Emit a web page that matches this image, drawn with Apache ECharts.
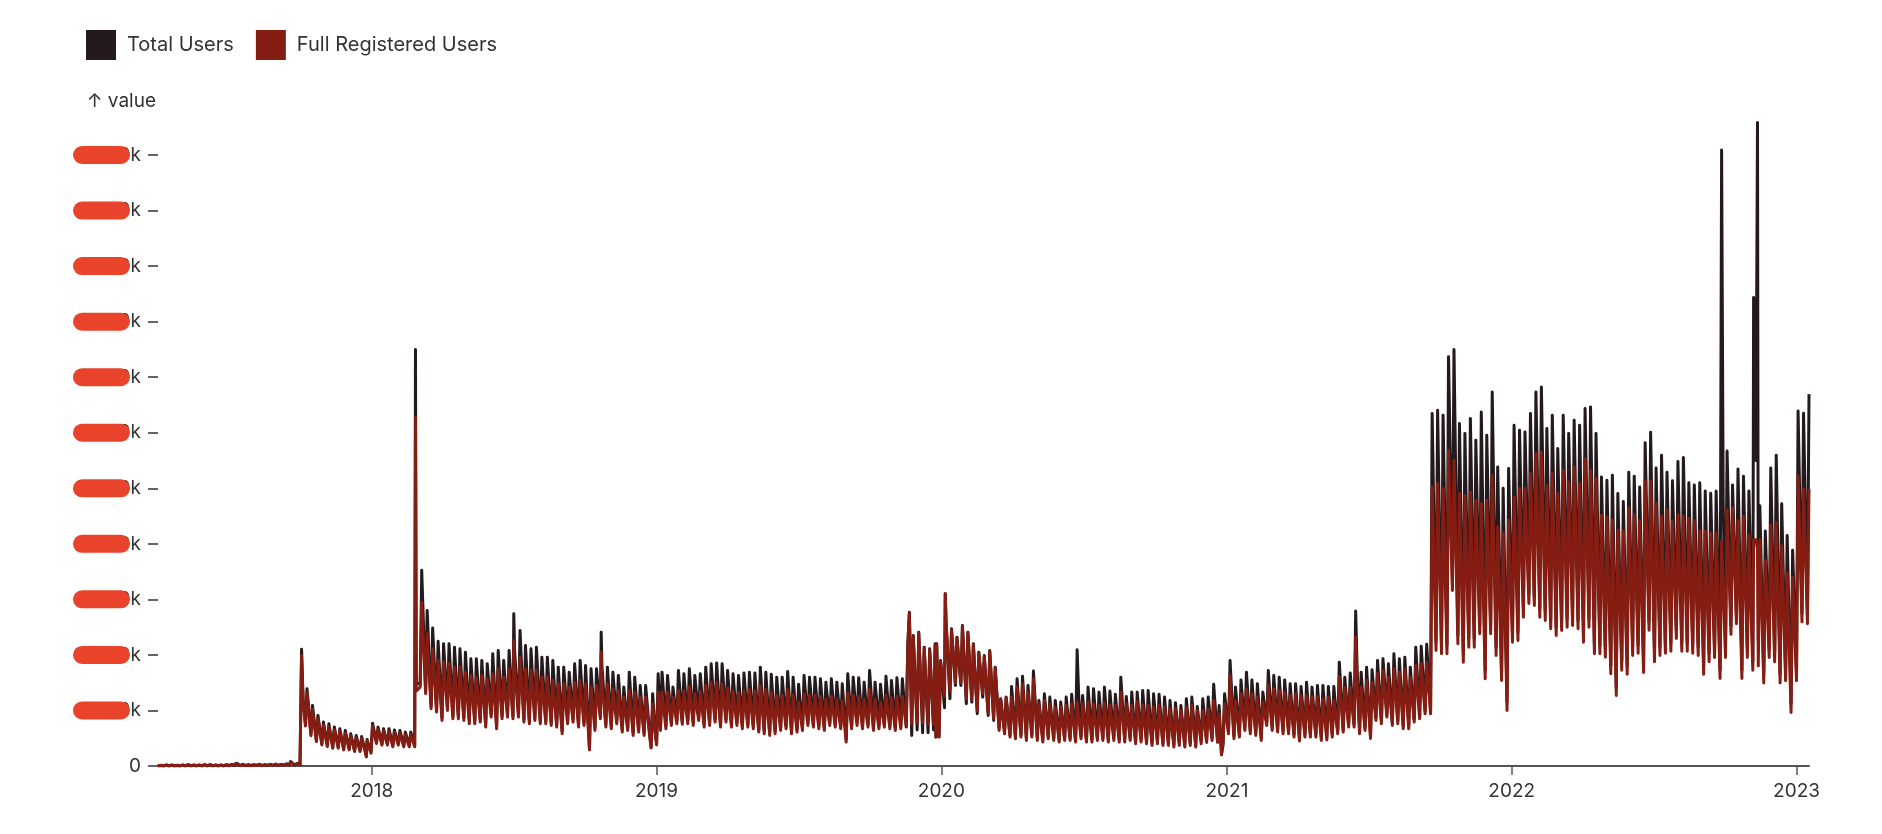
<!DOCTYPE html>
<html>
<head>
<meta charset="utf-8">
<script src="https://cdn.jsdelivr.net/npm/echarts@6/dist/echarts.min.js"></script>
<style>
html, body { margin: 0; padding: 0; background: #ffffff; }
#chart { width: 1882px; height: 834px; }
</style>
</head>
<body>
<div id="chart"></div>
<script>
// ---------- DATA (values in thousands of users) ----------
const seriesNames = ['Total Users', 'Full Registered Users'];
const firstWeekStart = '2017-04-02';   // Sunday of week 0
const lastDay = '2023-01-17';
const yearTicks = ['2018', '2019', '2020', '2021', '2022', '2023'];
const yTicks = [0, 20, 40, 60, 80, 100, 120, 140, 160, 180, 200, 220];

// weekly weekday level (Tue/Thu) of Total Users, one entry per week from 2017-04-02
const totalHigh = [
  0.3,0.4,0.4,0.3,0.4,0.5,0.4,0.4,0.5,0.5,0.4,0.4,0.5,0.6,1.0,0.6,0.5,0.5,0.6,0.5,0.6,0.7,0.6,0.8,1.6,1.0,
  24,27.8,21.8,18.2,15.8,15.2,14.0,13.4,12.8,11.6,11.0,10.6,9.5,15.4,14.0,13.4,13.4,13.0,12.8,12.2,12.2,30,
  70.5,56.0,49.7,44.9,44.0,44.0,42.8,42.2,41.0,38.6,38.6,38.0,36.8,40.4,41.6,38.0,41.6,42.0,48.8,43.4,42.2,42.8,39.2,39.2,38.0,35.6,35.6,33.8,36.8,38.0,36.2,35.0,35.0,36.0,35.6,33.8,32.6,28.4,33.8,32.0,29.0,29.0,26.0,33.2,33.8,32.6,28.4,34.4,
  33.2,35.0,32.6,33.2,35.6,36.8,37.1,36.8,34.4,33.2,32.6,33.5,33.8,33.5,35.6,33.8,33.0,32.0,32.0,34.0,32.0,29.4,32.6,32.0,32.0,31.4,30.2,31.4,30.2,29.6,33.2,32.0,31.8,30.2,34.4,30.2,29.4,32.3,30.8,31.8,31.4,
  44.0,47.0,48.2,42.8,42.2,44.0,38.0,
  52,49.4,46.4,50.6,48.2,44.0,41.0,39.8,41.6,35.6,24.2,24.8,28.6,31.4,32.3,29.0,34.2,23.6,26.0,24.8,23.6,23.0,24.8,25.8,25.4,25.4,28.4,27.8,26.6,28.4,27.0,25.8,32.0,25.0,26.6,26.6,27.2,27.2,26.0,25.8,24.8,23.6,22.8,21.8,24.2,24.8,21.4,
  24.2,24.8,29.4,21.8,26.0,38.0,28.4,31.0,33.8,31.0,29.6,26.6,34.4,32.6,32.0,31.0,29.6,29.6,28.6,30.2,28.4,29.0,29.0,28.6,28.6,37.4,32.0,33.5,33.8,33.8,35.6,34.7,38.0,38.6,36.8,40.4,38.6,39.2,35.6,42.8,43.1,43.8,
  126.9,128.1,126.3,147.4,150.0,123.3,119.7,125.1,117.3,127.5,119.1,134.7,107.7,100.0,107.1,122.7,120.9,120.3,126.9,134.7,136.5,121.5,126.3,114.3,126.3,119.7,124.5,122.7,128.7,129.3,119.7,104.1,102.9,104.7,98.1,
  95.2,105.8,104.3,100.5,116.4,120.2,107.3,111.9,105.8,102.7,109.6,111.1,102.0,101.2,102.0,99.0,98.2,99.0,96.0,113.4,101.2,106.9,104.3,99.0,110.0,93.7,84.6,107.3,111.9,94.4,83.0,77.7,127.8,127.0,133.9
];

// weekly weekend level (Sunday) of Total Users
const totalLow = [
  0.1,0.1,0.1,0.1,0.1,0.1,0.1,0.1,0.1,0.1,0.1,0.1,0.1,0.2,0.2,0.2,0.2,0.2,0.2,0.2,0.2,0.2,0.2,0.3,0.3,0.4,
  0.5,15.0,11.4,9.2,8.0,7.4,6.8,6.8,6.2,6.2,5.6,5.6,5.0,5.0,8.6,8.0,8.0,7.4,8.0,7.4,7.4,7.4,
  29.4,27.0,21.6,20.4,17.4,21.0,18.0,18.0,17.4,16.2,16.2,16.8,15.0,18.6,14.4,18.0,18.6,18.0,18.6,16.8,16.2,17.4,16.2,16.2,15.6,15.0,12.6,16.2,16.8,15.0,15.6,6.8,13.8,18.0,15.0,14.4,16.2,13.2,13.8,12.0,13.2,12.0,12.0,13.2,13.8,14.4,15.6,16.2,
  16.0,16.2,15.6,17.4,15.0,15.6,16.8,15.0,16.8,15.0,15.6,14.4,15.0,14.4,13.2,12.6,12.0,12.6,13.8,14.4,12.6,13.2,13.8,15.6,15.0,14.4,13.8,15.6,15.0,14.4,9.6,14.4,15.6,14.4,15.0,13.8,14.4,15.0,14.4,13.8,14.4,
  14.0,11.0,13.0,12.0,12.0,13.0,10.4,
  21,24.2,29,29,22.4,23,18.8,24.8,18.2,16.4,13.6,12.4,11.2,10.6,11.2,10.0,11.2,10.0,9.4,10.6,10.0,9.4,10.0,10.0,9.4,10.6,9.4,9.4,10.0,10.0,9.4,10.0,9.4,9.4,10.0,8.8,9.4,8.8,8.2,8.8,8.2,8.2,7.6,8.2,7.6,8.2,7.6,
  9.0,9.5,10.2,9.5,8.4,12.6,10.8,11.4,13.8,12.6,12.0,10.2,15.6,13.8,13.2,12.6,12.6,11.4,10.0,11.4,11.4,11.4,10.2,10.4,11.4,12.6,13.2,15.0,15.0,12.6,13.8,10.9,17.4,16.2,18.6,15.6,16.2,14.4,14.4,16.8,18.0,19.8,
  19.8,44.6,43.4,43.4,66.2,47.0,40.4,45.8,45.8,50.6,34.4,50.6,42.8,33.8,23.0,47.6,48.2,56.6,61.5,60.8,56.6,55.4,52.4,50.0,51.8,53.0,53.6,52.4,47.6,53.0,43.4,43.4,42.2,36.2,28.4,
  37.5,36.0,42.8,43.6,36.7,51.9,40.5,42.8,43.6,44.3,48.9,44.3,44.3,43.6,42.8,36.0,40.5,42.1,34.5,42.1,50.4,54.2,34.5,42.1,37.5,45.0,32.9,42.1,40.5,32.9,33.7,22.3,33.7,54.9,54.2
];

// weekly weekday level of Full Registered Users
const registeredHigh = [
  0.2,0.3,0.3,0.2,0.3,0.4,0.3,0.3,0.4,0.4,0.3,0.3,0.4,0.5,0.9,0.5,0.4,0.4,0.5,0.4,0.5,0.6,0.5,0.7,1.5,0.9,
  23,26.5,20.5,17.0,14.8,14.2,13.1,12.5,11.9,10.8,10.2,9.8,9.0,14.5,13.1,12.5,12.5,12.1,11.9,11.3,11.3,27,
  59.0,47.6,42.2,38.0,37.4,36.8,35.6,35.6,33.8,32.6,32.0,32.6,31.4,33.2,35.0,32.0,35.0,36.0,39.2,35.0,34.4,34.4,32.0,32.0,30.8,29.6,29.6,28.4,30.2,30.8,29.6,28.4,29.0,30.0,29.6,27.8,27.2,24.8,27.2,26.6,24.8,24.8,22.4,26.6,26.6,26.6,24.8,27.2,
  27.0,28.5,26.0,27.0,29.0,30.0,30.0,29.5,28.0,27.0,26.5,27.0,27.5,27.0,29.0,27.5,26.5,25.5,25.5,27.5,25.5,23.0,26.0,25.5,25.5,25.0,24.0,25.0,24.0,23.5,26.5,25.5,25.0,24.0,27.5,24.0,23.0,25.5,24.5,25.0,25.0,
  43.5,46.5,47.8,42.5,41.8,43.5,37.5,
  52,49.0,46.0,50.2,47.8,43.6,40.6,39.4,41.2,35.2,24.0,24.6,24.8,28.4,29.6,26.6,31.4,22.4,23.6,22.4,21.2,21.2,21.8,22.4,23.0,22.4,23.0,22.4,21.8,22.8,22.0,21.8,26.6,22.4,21.8,23.0,22.0,21.8,21.2,21.8,21.2,20.6,20.6,20.0,21.2,21.8,20.0,
  20.0,20.6,23.6,18.8,22.4,32.6,23.6,26.0,27.8,26.0,24.8,23.0,29.0,27.8,27.2,26.6,25.4,26.0,25.4,25.4,24.8,24.8,24.2,24.8,23.6,32.0,28.4,28.4,28.4,28.4,30.8,30.2,33.2,34.4,32.0,35.0,33.8,35.0,32.0,36.2,36.8,37.4,
  100.5,101.7,99.9,113.7,110.0,98.1,97.3,98.7,95.7,94.5,95.7,104.7,86.1,84.0,88.5,96.9,99.9,99.9,105.3,112.5,113.1,101.1,105.3,98.1,106.5,102.3,107.7,101.7,110.7,106.5,103.5,90.3,89.7,88.5,84.9,
  84.6,92.9,90.6,88.3,102.7,102.7,94.4,89.9,92.2,88.3,90.6,89.9,89.1,88.3,84.6,84.6,83.8,83.8,80.8,92.2,92.9,88.3,89.9,83.0,81.5,81.5,74.0,86.8,87.6,79.3,69.4,67.9,104.3,99.7,99.7
];

// weekly weekend level of Full Registered Users
const registeredLow = [
  0.1,0.1,0.1,0.1,0.1,0.1,0.1,0.1,0.1,0.1,0.1,0.1,0.1,0.1,0.2,0.1,0.1,0.1,0.2,0.1,0.2,0.2,0.2,0.2,0.3,0.3,
  0.4,14.4,10.9,8.8,7.6,7.0,6.4,6.4,5.8,5.8,5.2,5.2,4.6,4.6,8.1,7.5,7.5,6.9,7.5,6.9,6.9,6.9,
  28.4,26.0,20.6,19.4,16.4,20.0,17.0,17.0,16.4,15.2,15.2,15.8,14.0,17.6,13.4,17.0,17.6,17.0,17.6,15.8,15.2,16.4,15.2,15.2,14.6,14.0,11.6,15.2,15.8,14.0,14.6,5.8,12.8,17.0,14.0,13.4,15.2,12.2,12.8,11.0,12.2,11.0,11.0,12.2,12.8,13.4,14.6,15.2,
  15.0,15.2,14.6,16.4,14.0,14.6,15.8,14.0,15.8,14.0,14.6,13.4,14.0,13.4,12.2,11.6,11.0,11.6,12.8,13.4,11.6,12.2,12.8,14.6,14.0,13.4,12.8,14.6,14.0,13.4,8.6,13.4,14.6,13.4,14.0,12.8,13.4,14.0,13.4,12.8,13.4,
  14.5,15.0,15.5,15.5,15.0,15.0,10.6,
  25,27,30,30,24,24,20,26,19,17,12.8,11.6,10.4,9.8,10.4,9.2,10.4,9.2,8.6,9.8,9.2,8.6,9.2,9.2,8.6,9.8,8.6,8.6,9.2,9.2,8.6,9.2,8.6,8.6,9.2,8.0,8.6,8.0,7.4,8.0,7.4,7.4,6.8,7.4,6.8,7.4,6.8,
  8.0,8.5,9.2,8.5,7.4,11.6,9.8,10.4,12.8,11.6,11.0,9.2,14.6,12.8,12.2,11.6,11.6,10.4,9.0,10.4,10.4,10.4,9.2,9.4,10.4,11.6,12.2,14.0,14.0,11.6,12.8,9.9,16.4,15.2,17.6,14.6,15.2,13.4,13.4,15.8,17.0,18.8,
  18.8,41.6,40.4,40.4,63.2,44.0,37.4,42.8,42.8,47.6,31.4,47.6,39.8,30.8,20.0,44.6,45.2,53.6,58.5,57.8,53.6,52.4,49.4,47.0,48.8,50.0,50.6,49.4,44.6,50.0,40.4,40.4,39.2,33.2,25.4,
  34.5,33.0,39.8,40.6,33.7,48.9,37.5,39.8,40.6,41.3,45.9,41.3,41.3,40.6,39.8,33.0,37.5,39.1,31.5,39.1,47.4,51.2,31.5,39.1,34.5,36.0,29.9,39.1,37.5,29.9,30.7,19.3,30.7,51.9,51.2
];

// single-day spikes and holiday dips
const specialDates = ['2017-10-03','2017-12-25','2018-02-26','2018-07-02','2018-10-22','2018-12-25','2019-01-01','2019-11-21','2019-12-25','2020-01-06','2020-06-23','2020-12-25','2021-06-15','2022-09-27','2022-11-07','2022-11-08','2022-11-12'];
const specialTotal = [42.0, 3.5, 150.0, 54.8, 48.2, 6.8, 8.0, 55.4, 10.4, 62.0, 41.9, 4.4, 55.8, 221.8, 168.7, 166.0, 231.7];
const specialRegistered = [39.8, 3.3, 125.5, 45.2, 41.0, 6.5, 7.6, 55.0, 10.4, 62.0, 23.0, 4.0, 46.4, 80.8, 81.5, 81.5, 78.0];

// ---------- STYLE ----------
const colors = ['#241a1d', '#861d13'];
const font = 'Inter, "Noto Sans", "DejaVu Sans", sans-serif';
const YEAR = 365 * 24 * 3600 * 1000;

function parseDay(s) {
  const p = s.split('-').map(Number);
  return new Date(p[0], p[1] - 1, p[2]).getTime();
}
function addDays(t, n) {
  const d = new Date(t);
  return new Date(d.getFullYear(), d.getMonth(), d.getDate() + n).getTime();
}
function buildSeries(high, low, specials) {
  const start = parseDay(firstWeekStart);
  const end = parseDay(lastDay);
  const m = new Map();
  for (let w = 0; w < high.length; w++) {
    const sun = addDays(start, 7 * w);
    m.set(sun, low[w]);
    m.set(addDays(sun, 2), high[w]);
    m.set(addDays(sun, 4), high[w]);
  }
  specialDates.forEach((d, i) => m.set(parseDay(d), specials[i]));
  return Array.from(m.entries()).filter(e => e[0] <= end).sort((a, b) => a[0] - b[0]);
}

const totalData = buildSeries(totalHigh, totalLow, specialTotal);
const registeredData = buildSeries(registeredHigh, registeredLow, specialRegistered);

const chart = echarts.init(document.getElementById('chart'), null, { renderer: 'canvas' });
chart.setOption({
  animation: false,
  textStyle: { fontFamily: font },
  color: colors,
  legend: {
    left: 86, top: 30, padding: 0,
    itemWidth: 30, itemHeight: 30, itemGap: 22,
    icon: 'rect',
    selectedMode: false,
    data: seriesNames,
    textStyle: { fontFamily: font, fontSize: 20, color: '#333333', padding: [0, 0, 0, 6] }
  },
  grid: { left: 158, right: 73, top: 155, bottom: 68 },
  xAxis: {
    type: 'time',
    min: parseDay(firstWeekStart),
    max: parseDay(lastDay),
    minInterval: YEAR,
    maxInterval: YEAR * 1.01,
    axisLine: { show: true, lineStyle: { color: '#555555', width: 2 } },
    axisTick: { show: true, length: 9, lineStyle: { color: '#555555', width: 1.5 } },
    axisLabel: {
      formatter: v => {
        const y = String(new Date(v).getFullYear());
        const d = new Date(v);
        return (d.getMonth() === 0 && d.getDate() === 1 && yearTicks.indexOf(y) >= 0) ? y : '';
      },
      showMinLabel: false, showMaxLabel: false,
      fontFamily: font, fontSize: 19, color: '#333333', margin: 16
    },
    splitLine: { show: false }
  },
  yAxis: {
    type: 'value',
    min: yTicks[0], max: yTicks[yTicks.length - 1], interval: 20,
    name: '↑ value',
    nameLocation: 'end',
    nameGap: 44,
    nameTextStyle: { fontFamily: font, fontSize: 19, color: '#333333', align: 'right', padding: [0, 2, 0, 0] },
    axisLine: { show: false },
    axisTick: { show: true, length: 10, lineStyle: { color: '#333333', width: 1.5 } },
    axisLabel: { fontFamily: font, fontSize: 19, color: '#333333', margin: 17, formatter: v => v === 0 ? '0' : v + 'k' },
    splitLine: { show: false }
  },
  series: [
    {
      name: seriesNames[0], type: 'line', data: totalData,
      showSymbol: false, symbol: 'none', clip: false, z: 2,
      itemStyle: { color: colors[0] },
      lineStyle: { width: 3, color: colors[0], join: 'round' }
    },
    {
      name: seriesNames[1], type: 'line', data: registeredData,
      showSymbol: false, symbol: 'none', clip: false, z: 3,
      itemStyle: { color: colors[1] },
      lineStyle: { width: 3, color: colors[1], join: 'round' }
    }
  ]
});

// red redaction marks over the y tick labels (as in the reference picture)
const blobs = yTicks.filter(v => v > 0).map(v => {
  const y = chart.convertToPixel({ yAxisIndex: 0 }, v);
  return {
    type: 'rect',
    shape: { x: 73, y: y - 9, width: 57, height: 18, r: 9 },
    style: { fill: '#e9432b' },
    z: 100
  };
});
chart.setOption({ graphic: blobs });
</script>
</body>
</html>
